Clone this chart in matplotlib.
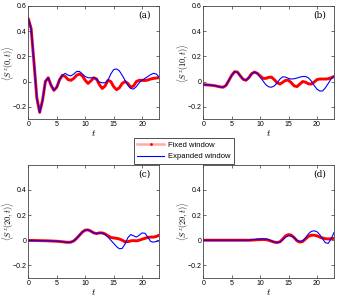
import numpy as np
import matplotlib
matplotlib.use("Agg")
import matplotlib.pyplot as plt
from matplotlib.lines import Line2D

plt.rcParams['font.family'] = ['Liberation Sans', 'DejaVu Sans']
plt.rcParams['mathtext.fontset'] = 'cm'

# time grid (step 0.5, 0..23)
t = np.arange(47) * 0.5

# panel (a): <S^z(0,t)>
fixed_a = [0.50, 0.42, 0.15, -0.13, -0.245, -0.15, 0.00, 0.03, -0.03, -0.07,
           -0.045, 0.015, 0.05, 0.04, 0.015, 0.01, 0.025, 0.05, 0.06, 0.045,
           0.01, -0.015, 0.005, 0.03, 0.02, -0.025, -0.055, -0.035, 0.01, 0.0,
           -0.04, -0.065, -0.05, -0.015, 0.0, -0.015, -0.045, -0.035, 0.0, 0.01,
           0.01, 0.008, 0.012, 0.02, 0.025, 0.028, 0.03]
expand_a = [0.50, 0.42, 0.15, -0.13, -0.245, -0.15, 0.00, 0.03, -0.03, -0.07,
            -0.045, 0.015, 0.05, 0.065, 0.05, 0.045, 0.06, 0.08, 0.08, 0.06,
            0.04, 0.03, 0.03, 0.03, 0.02, -0.005, -0.01, -0.01, 0.01, 0.06,
            0.095, 0.10, 0.085, 0.05, 0.01, -0.03, -0.055, -0.06, -0.04, -0.01,
            0.01, 0.025, 0.04, 0.055, 0.065, 0.06, 0.035]

# panel (b): <S^z(10,t)>
fixed_b = [-0.025, -0.026, -0.028, -0.03, -0.033, -0.038, -0.043, -0.045, -0.03, 0.01,
           0.05, 0.078, 0.075, 0.045, 0.018, 0.01, 0.03, 0.062, 0.075, 0.065,
           0.045, 0.025, 0.025, 0.033, 0.035, 0.015, -0.01, -0.02, -0.005, 0.01,
           0.01, -0.01, -0.035, -0.04, -0.02, 0.0, -0.005, -0.018, -0.02, -0.005,
           0.015, 0.02, 0.02, 0.02, 0.022, 0.03, 0.04]
expand_b = [-0.025, -0.026, -0.028, -0.03, -0.033, -0.038, -0.043, -0.045, -0.03, 0.01,
            0.05, 0.078, 0.075, 0.045, 0.018, 0.01, 0.03, 0.062, 0.075, 0.065,
            0.035, 0.005, -0.025, -0.042, -0.045, -0.035, -0.01, 0.02, 0.038, 0.035,
            0.025, 0.02, 0.022, 0.028, 0.035, 0.04, 0.04, 0.03, 0.005, -0.03,
            -0.06, -0.075, -0.075, -0.05, -0.015, 0.02, 0.04]

# panel (c): <S^z(20,t)>
fixed_c = [-0.002, -0.002, -0.002, -0.003, -0.003, -0.004, -0.004, -0.005, -0.006, -0.007,
           -0.008, -0.01, -0.012, -0.015, -0.017, -0.015, -0.005, 0.015, 0.04, 0.065,
           0.08, 0.082, 0.072, 0.058, 0.053, 0.058, 0.058, 0.05, 0.035, 0.022,
           0.018, 0.015, 0.01, 0.0, -0.012, -0.012, -0.005, -0.003, -0.005, 0.0,
           0.008, 0.015, 0.022, 0.025, 0.025, 0.03, 0.04]
expand_c = [-0.002, -0.002, -0.002, -0.003, -0.003, -0.004, -0.004, -0.005, -0.006, -0.007,
            -0.008, -0.01, -0.012, -0.015, -0.017, -0.015, -0.005, 0.015, 0.04, 0.065,
            0.08, 0.082, 0.072, 0.058, 0.053, 0.058, 0.058, 0.045, 0.025, 0.0,
            -0.025, -0.05, -0.068, -0.065, -0.03, 0.02, 0.045, 0.035, 0.025, 0.04,
            0.058, 0.055, 0.025, -0.01, -0.015, -0.01, -0.005]

# panel (d): <S^z(29,t)>
fixed_d = [0.0, 0.0, 0.0, 0.0, 0.0, 0.0, 0.0, 0.0, 0.0, 0.0,
           0.0, 0.0, 0.0, 0.0, 0.0, 0.0, 0.0, 0.001, 0.002, 0.004,
           0.005, 0.006, 0.005, 0.0, -0.008, -0.015, -0.018, -0.012, 0.01, 0.035,
           0.045, 0.04, 0.02, -0.005, -0.015, -0.01, 0.01, 0.03, 0.04, 0.04,
           0.035, 0.025, 0.018, 0.012, 0.01, 0.012, 0.015]
expand_d = [0.0, 0.0, 0.0, 0.0, 0.0, 0.0, 0.0, 0.0, 0.0, 0.0,
            0.0, 0.0, 0.0, 0.0, 0.0, 0.0, 0.0, 0.003, 0.005, 0.008,
            0.01, 0.01, 0.01, 0.005, -0.005, -0.015, -0.02, -0.015, 0.005, 0.025,
            0.035, 0.033, 0.02, 0.0, -0.01, -0.005, 0.02, 0.05, 0.07, 0.075,
            0.068, 0.045, 0.01, -0.02, -0.025, 0.01, 0.06]

sites = [0, 10, 20, 29]
tags = ['(a)', '(b)', '(c)', '(d)']
fixed = [fixed_a, fixed_b, fixed_c, fixed_d]
expanded = [expand_a, expand_b, expand_c, expand_d]

xticks = [0, 5, 10, 15, 20]
yticks_top = [-0.2, 0, 0.2, 0.4, 0.6]
ylabels_top = ['\u22120.2', '0', '0.2', '0.4', '0.6']
yticks_bot = [-0.2, 0, 0.2, 0.4]
ylabels_bot = ['\u22120.2', '0', '0.2', '0.4']

fig = plt.figure(figsize=(3.39, 2.97), dpi=100)
boxes = [[0.0835, 0.5983, 0.386, 0.3815],
         [0.600, 0.5983, 0.385, 0.3815],
         [0.0835, 0.064, 0.386, 0.3815],
         [0.600, 0.064, 0.385, 0.3815]]

for i in range(4):
    ax = fig.add_axes(boxes[i])
    ax.plot(t, fixed[i], color='#ff0000', lw=2.1, solid_capstyle='round')
    ax.plot(t, expanded[i], color='#0000ff', lw=0.8)
    ax.set_xlim(0, 23)
    ax.set_ylim(-0.3, 0.6)
    ax.set_xticks(xticks)
    if i < 2:
        ax.set_yticks(yticks_top)
        ax.set_yticklabels(ylabels_top)
    else:
        ax.set_yticks(yticks_bot)
        ax.set_yticklabels(ylabels_bot)
    ax.tick_params(direction='in', length=2, width=0.5, labelsize=5,
                   top=True, right=True, pad=1.5, colors='#333333',
                   labelcolor='black')
    for s in ax.spines.values():
        s.set_linewidth(0.6)
        s.set_color('#444444')
    ax.set_xlabel(r'$t$', fontsize=7, labelpad=0)
    ax.set_ylabel(r'$\langle S^z(%d,t)\rangle$' % sites[i], fontsize=6)
    ax.yaxis.set_label_coords(-0.095, 0.5)
    ax.text(0.89, 0.92, tags[i], transform=ax.transAxes, ha='center', va='center',
            fontsize=6.5, family='DejaVu Serif')

handles = [Line2D([], [], color='#ffaaaa', lw=1.8, marker='.', markersize=2,
                  markerfacecolor='red', markeredgecolor='red'),
           Line2D([], [], color='#0000ff', lw=0.8)]
leg = fig.legend(handles, ['Fixed window', 'Expanded window'],
                 loc='center', bbox_to_anchor=(0.5427, 0.4916),
                 fontsize=5.5, frameon=True, fancybox=False, handlelength=3.5,
                 borderpad=0.45, labelspacing=0.5, handletextpad=0.5)
leg.get_frame().set_edgecolor('black')
leg.get_frame().set_linewidth(0.6)

fig.savefig('out.png', dpi=100)
